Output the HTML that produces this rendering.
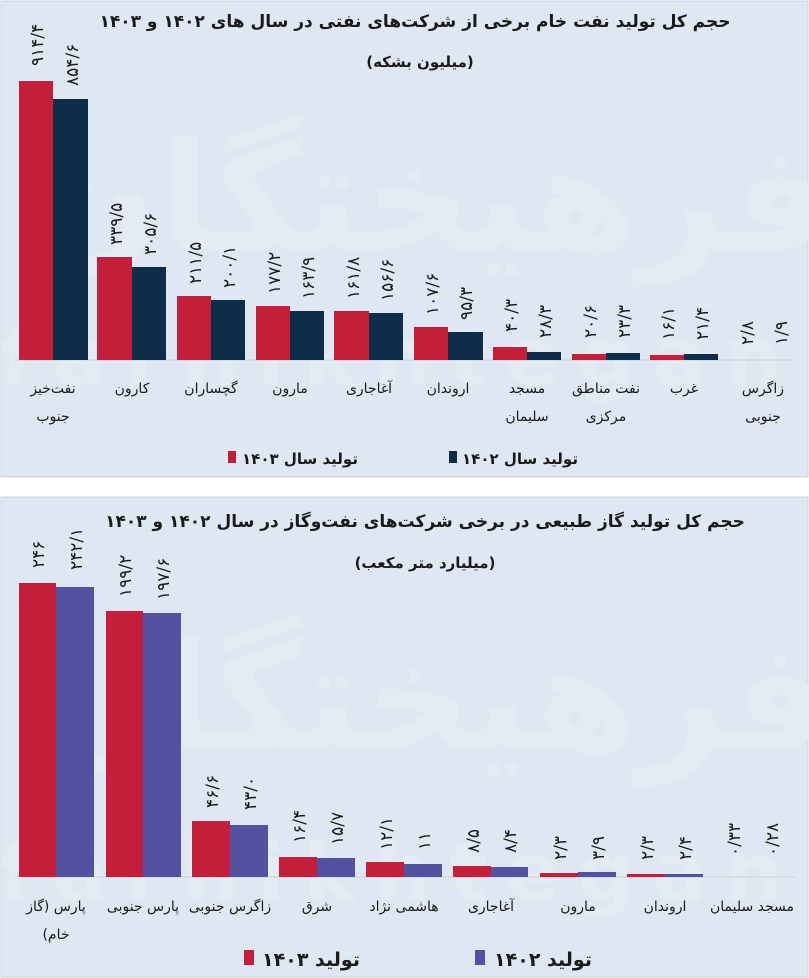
<!DOCTYPE html>
<html><head><meta charset="utf-8"><style>
html,body{margin:0;padding:0;background:#fff;}
svg{display:block}
text{font-family:"DejaVu Sans",sans-serif;font-weight:bold;fill:#1a1a1a}
.t{font-size:17px}
.l{font-size:14px;font-weight:normal}
.v{font-size:17px;font-weight:normal;letter-spacing:2px}
</style></head><body>
<svg width="809" height="978" viewBox="0 0 809 978" xmlns="http://www.w3.org/2000/svg">
<rect x="0" y="0" width="809" height="978" fill="#ffffff"/>
<rect x="1" y="1" width="807" height="476" fill="#dfe8f2" stroke="#c9d3de"/>
<rect x="1" y="497" width="807" height="480" fill="#dfe8f2" stroke="#c9d3de"/>
<!-- watermark -->
<text x="430" y="250" font-size="150" style="fill:#e4ebf3" text-anchor="middle" direction="rtl">فرهیختگان</text>
<text x="400" y="385" font-size="80" style="fill:#e4ebf3;letter-spacing:18px" text-anchor="middle">farhikhtegan</text>
<text x="430" y="750" font-size="150" style="fill:#e4ebf3" text-anchor="middle" direction="rtl">فرهیختگان</text>
<text x="400" y="900" font-size="80" style="fill:#e4ebf3;letter-spacing:18px" text-anchor="middle">farhikhtegan</text>

<!-- top chart -->
<text class="t" x="415" y="27" text-anchor="middle" direction="rtl">حجم کل تولید نفت خام برخی از شرکت‌های نفتی در سال های ۱۴۰۲ و  ۱۴۰۳</text>
<text class="t" x="420" y="67" text-anchor="middle" direction="rtl" style="font-size:15px">(میلیون بشکه)</text>
<line x1="15" y1="360" x2="795" y2="360" stroke="#c8d0da"/>
<g fill="#c41e3a">
<rect x="19" y="81" width="34" height="279"/><rect x="97" y="257" width="35" height="103"/><rect x="177" y="296" width="34" height="64"/><rect x="256" y="306" width="34" height="54"/><rect x="334" y="311" width="35" height="49"/><rect x="414" y="327" width="34" height="33"/><rect x="493" y="347" width="34" height="13"/><rect x="572" y="354" width="34" height="6"/><rect x="650" y="355" width="34" height="5"/>
</g>
<g fill="#0e2d48">
<rect x="53" y="99" width="35" height="261"/><rect x="132" y="267" width="34" height="93"/><rect x="211" y="300" width="34" height="60"/><rect x="290" y="311" width="34" height="49"/><rect x="369" y="313" width="34" height="47"/><rect x="448" y="332" width="35" height="28"/><rect x="527" y="352" width="34" height="8"/><rect x="606" y="353" width="34" height="7"/><rect x="684" y="354" width="34" height="6"/>
</g>
<g>
<text class="v" transform="translate(43,66) rotate(-90)">۹۱۴/۴</text>
<text class="v" transform="translate(78,86) rotate(-90)">۸۵۴/۶</text>
<text class="v" transform="translate(122,245) rotate(-90)">۳۳۹/۵</text>
<text class="v" transform="translate(156,255) rotate(-90)">۳۰۵/۶</text>
<text class="v" transform="translate(201,284) rotate(-90)">۲۱۱/۵</text>
<text class="v" transform="translate(235,288) rotate(-90)">۲۰۰/۱</text>
<text class="v" transform="translate(280,294) rotate(-90)">۱۷۷/۲</text>
<text class="v" transform="translate(314,299) rotate(-90)">۱۶۳/۹</text>
<text class="v" transform="translate(359,299) rotate(-90)">۱۶۱/۸</text>
<text class="v" transform="translate(393,301) rotate(-90)">۱۵۶/۶</text>
<text class="v" transform="translate(438,315) rotate(-90)">۱۰۷/۶</text>
<text class="v" transform="translate(472,320) rotate(-90)">۹۵/۳</text>
<text class="v" transform="translate(517,332) rotate(-90)">۴۰/۳</text>
<text class="v" transform="translate(551,338) rotate(-90)">۲۸/۳</text>
<text class="v" transform="translate(596,338) rotate(-90)">۲۰/۶</text>
<text class="v" transform="translate(630,338) rotate(-90)">۲۳/۳</text>
<text class="v" transform="translate(674,340) rotate(-90)">۱۶/۱</text>
<text class="v" transform="translate(708,340) rotate(-90)">۲۱/۴</text>
<text class="v" transform="translate(753,345) rotate(-90)">۲/۸</text>
<text class="v" transform="translate(787,345) rotate(-90)">۱/۹</text>
</g>
<g>
<text class="l" x="53" y="393" text-anchor="middle" direction="rtl">نفت‌خیز</text><text class="l" x="53" y="421" text-anchor="middle" direction="rtl">جنوب</text>
<text class="l" x="132" y="393" text-anchor="middle" direction="rtl">کارون</text>
<text class="l" x="211" y="393" text-anchor="middle" direction="rtl">گچساران</text>
<text class="l" x="290" y="393" text-anchor="middle" direction="rtl">مارون</text>
<text class="l" x="369" y="393" text-anchor="middle" direction="rtl">آغاجاری</text>
<text class="l" x="448" y="393" text-anchor="middle" direction="rtl">اروندان</text>
<text class="l" x="527" y="393" text-anchor="middle" direction="rtl">مسجد</text><text class="l" x="527" y="421" text-anchor="middle" direction="rtl">سلیمان</text>
<text class="l" x="606" y="393" text-anchor="middle" direction="rtl">نفت مناطق</text><text class="l" x="606" y="421" text-anchor="middle" direction="rtl">مرکزی</text>
<text class="l" x="684" y="393" text-anchor="middle" direction="rtl">غرب</text>
<text class="l" x="763" y="393" text-anchor="middle" direction="rtl">زاگرس</text><text class="l" x="763" y="421" text-anchor="middle" direction="rtl">جنوبی</text>
</g>
<rect x="228" y="451" width="8" height="12" fill="#c41e3a"/>
<text x="300" y="464" text-anchor="middle" direction="rtl" style="font-size:15px">تولید سال ۱۴۰۳</text>
<rect x="449" y="451" width="8" height="12" fill="#0e2d48"/>
<text x="520" y="464" text-anchor="middle" direction="rtl" style="font-size:15px">تولید سال ۱۴۰۲</text>

<!-- bottom chart -->
<text class="t" x="425" y="527" text-anchor="middle" direction="rtl">حجم کل تولید گاز طبیعی در برخی شرکت‌های نفت‌وگاز در سال ۱۴۰۲ و ۱۴۰۳</text>
<text class="t" x="425" y="568" text-anchor="middle" direction="rtl" style="font-size:15px">(میلیارد متر مکعب)</text>
<line x1="15" y1="877" x2="795" y2="877" stroke="#c8d0da"/>
<g fill="#c41e3a">
<rect x="19" y="583" width="37" height="294"/><rect x="106" y="611" width="37" height="266"/><rect x="192" y="821" width="38" height="56"/><rect x="279" y="857" width="38" height="20"/><rect x="366" y="862" width="38" height="15"/><rect x="453" y="866" width="38" height="11"/><rect x="540" y="873" width="38" height="4"/><rect x="627" y="874" width="38" height="3"/>
</g>
<g fill="#5252a0">
<rect x="56" y="587" width="38" height="290"/><rect x="143" y="613" width="38" height="264"/><rect x="230" y="825" width="38" height="52"/><rect x="317" y="858" width="38" height="19"/><rect x="404" y="864" width="38" height="13"/><rect x="491" y="867" width="37" height="10"/><rect x="578" y="872" width="38" height="5"/><rect x="665" y="874" width="38" height="3"/>
</g>
<g>
<text class="v" transform="translate(44,568) rotate(-90)">۲۴۶</text>
<text class="v" transform="translate(82,570) rotate(-90)">۲۴۲/۱</text>
<text class="v" transform="translate(131,597) rotate(-90)">۱۹۹/۲</text>
<text class="v" transform="translate(169,600) rotate(-90)">۱۹۷/۶</text>
<text class="v" transform="translate(218,808) rotate(-90)">۴۶/۶</text>
<text class="v" transform="translate(256,810) rotate(-90)">۴۳/۰</text>
<text class="v" transform="translate(305,843) rotate(-90)">۱۶/۴</text>
<text class="v" transform="translate(343,845) rotate(-90)">۱۵/۷</text>
<text class="v" transform="translate(392,850) rotate(-90)">۱۲/۱</text>
<text class="v" transform="translate(430,850) rotate(-90)">۱۱</text>
<text class="v" transform="translate(479,853) rotate(-90)">۸/۵</text>
<text class="v" transform="translate(516,853) rotate(-90)">۸/۴</text>
<text class="v" transform="translate(566,860) rotate(-90)">۲/۳</text>
<text class="v" transform="translate(604,860) rotate(-90)">۳/۹</text>
<text class="v" transform="translate(653,860) rotate(-90)">۲/۳</text>
<text class="v" transform="translate(691,860) rotate(-90)">۲/۴</text>
<text class="v" transform="translate(740,856) rotate(-90)">۰/۳۳</text>
<text class="v" transform="translate(778,856) rotate(-90)">۰/۲۸</text>
</g>
<g>
<text class="l" x="56" y="911" text-anchor="middle" direction="rtl">پارس (گاز</text><text class="l" x="56" y="939" text-anchor="middle" direction="rtl">خام)</text>
<text class="l" x="143" y="911" text-anchor="middle" direction="rtl">پارس جنوبی</text>
<text class="l" x="230" y="911" text-anchor="middle" direction="rtl">زاگرس جنوبی</text>
<text class="l" x="317" y="911" text-anchor="middle" direction="rtl">شرق</text>
<text class="l" x="404" y="911" text-anchor="middle" direction="rtl">هاشمی نژاد</text>
<text class="l" x="491" y="911" text-anchor="middle" direction="rtl">آغاجاری</text>
<text class="l" x="578" y="911" text-anchor="middle" direction="rtl">مارون</text>
<text class="l" x="665" y="911" text-anchor="middle" direction="rtl">اروندان</text>
<text class="l" x="752" y="911" text-anchor="middle" direction="rtl">مسجد سلیمان</text>
</g>
<rect x="244" y="950" width="10" height="15" fill="#c41e3a"/>
<text x="311" y="966" text-anchor="middle" direction="rtl" style="font-size:19px">تولید ۱۴۰۳</text>
<rect x="475" y="950" width="10" height="15" fill="#5252a0"/>
<text x="543" y="966" text-anchor="middle" direction="rtl" style="font-size:19px">تولید ۱۴۰۲</text>
</svg>
</body></html>
